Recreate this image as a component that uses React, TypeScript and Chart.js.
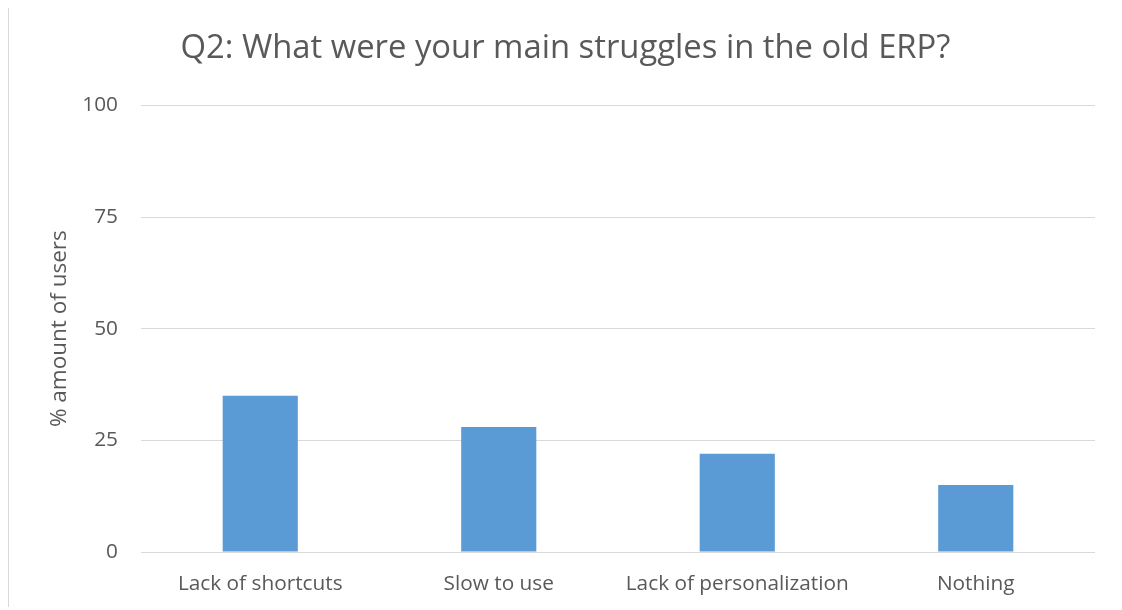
import React, { useEffect, useRef } from "react";
import { Chart, registerables } from "chart.js";

Chart.register(...registerables);

const categories = ["Lack of shortcuts", "Slow to use", "Lack of personalization", "Nothing"];
const values = [35, 28, 22, 15];
const yTicks = [0, 25, 50, 75, 100];
const titleText = "Q2: What were your main struggles in the old ERP?";
const yTitle = "% amount of users";

const FONT = "'Open Sans', sans-serif";
const TEXT = "#595959";

export default function App() {
  const ref = useRef<HTMLCanvasElement | null>(null);
  useEffect(() => {
    if (!ref.current) return;
    const chart = new Chart(ref.current, {
      type: "bar",
      data: {
        labels: categories,
        datasets: [
          {
            data: values,
            backgroundColor: "#5B9BD5",
            borderWidth: 0,
            categoryPercentage: 1,
            barPercentage: 0.315,
          },
        ],
      },
      options: {
        animation: false,
        responsive: false,
        maintainAspectRatio: false,
        layout: { padding: { left: 27, right: 27, top: 0, bottom: 0 } },
        plugins: {
          legend: { display: false },
          tooltip: { enabled: false },
          title: {
            display: true,
            text: titleText,
            color: TEXT,
            font: { family: FONT, size: 32.8, weight: "normal" },
            padding: { top: 22, bottom: 37 },
          },
        },
        scales: {
          x: {
            grid: { display: false, drawTicks: false },
            border: { display: false },
            ticks: { color: TEXT, font: { family: FONT, size: 20.8 }, padding: 20 },
            afterFit: (s: any) => {
              s.height = 55;
            },
          },
          y: {
            min: 0,
            max: 100,
            afterBuildTicks: (s: any) => {
              s.ticks = yTicks.map((v) => ({ value: v }));
            },
            grid: { color: "#D9D9D9", lineWidth: 1, drawTicks: false },
            border: { display: false },
            ticks: { color: TEXT, font: { family: FONT, size: 20.8 }, padding: 23 },
            title: {
              display: true,
              text: yTitle,
              color: TEXT,
              font: { family: FONT, size: 22.5 },
              padding: { top: 10.5, bottom: 0 },
            },
            afterFit: (s: any) => {
              s.width = 105;
            },
          },
        },
      },
    });
    return () => chart.destroy();
  }, []);
  return (
    <div
      style={{
        marginTop: -2,
        width: 1113,
        height: 600,
        borderTop: "1px solid #D9D9D9",
        borderLeft: "1px solid #D9D9D9",
        background: "#fff",
      }}
    >
      <canvas ref={ref} width={1113} height={600} style={{ display: "block" }} />
    </div>
  );
}
